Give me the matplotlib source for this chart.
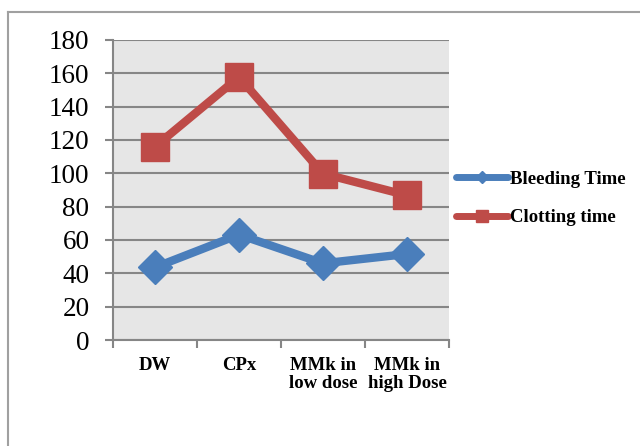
import matplotlib
matplotlib.use("Agg")
import matplotlib.pyplot as plt
from matplotlib.lines import Line2D

categories = ["DW", "CPx", "MMk in\nlow dose", "MMk in\nhigh Dose"]
bleeding = [43.6, 63.2, 46.0, 51.6]
clotting = [116.0, 157.8, 99.8, 86.8]
yticks = [0, 20, 40, 60, 80, 100, 120, 140, 160, 180]

blue = "#4a7ebb"
red = "#be4b48"
grid = "#868686"

fig = plt.figure(figsize=(6.4, 4.46), dpi=100)
fig.patch.set_facecolor("white")
# outer frame
fig.add_artist(Line2D([8/640, 1.0], [1-12/446, 1-12/446], color="#a0a0a0", lw=1.5, transform=fig.transFigure))
fig.add_artist(Line2D([8/640, 8/640], [1-12/446, 0], color="#a0a0a0", lw=1.5, transform=fig.transFigure))

ax = fig.add_axes([113/640, 1-340/446, 336/640, 300/446])
ax.set_facecolor("#e6e6e6")
x = list(range(len(categories)))
ax.plot(x, bleeding, color=blue, lw=6, marker="D", ms=17, mec=blue, mfc=blue, zorder=3, solid_joinstyle="round")
ax.plot(x, clotting, color=red, lw=6, marker="s", ms=20, mec=red, mfc=red, zorder=3, solid_joinstyle="round")

ax.set_xlim(-0.5, 3.5)
ax.set_ylim(0, 180)
ax.set_yticks(yticks)
ax.set_yticklabels([str(v) for v in yticks], fontfamily="Liberation Serif", fontsize=19.5)
ax.yaxis.grid(True, color=grid, lw=1.5)
ax.set_axisbelow(True)
ax.set_xticks([-0.5, 0.5, 1.5, 2.5, 3.5])
ax.set_xticklabels([])
ax.set_xticks(x, minor=True)
ax.set_xticklabels(categories, minor=True, fontfamily="Liberation Serif", fontsize=13.5, fontweight="bold", linespacing=1.1)
ax.tick_params(axis="x", which="minor", length=0, pad=12)
ax.tick_params(axis="x", which="major", length=6, width=1.5, color=grid, direction="out")
ax.tick_params(axis="y", length=6, width=1.5, color=grid, direction="out", pad=11)
for s in ["top", "right"]:
    ax.spines[s].set_visible(False)
ax.spines["left"].set_color(grid)
ax.spines["left"].set_linewidth(1.5)
ax.spines["bottom"].set_color(grid)
ax.spines["bottom"].set_linewidth(1.5)

handles = [
    Line2D([], [], color=blue, lw=5, marker="D", ms=6, solid_capstyle="round"),
    Line2D([], [], color=red, lw=5, marker="s", ms=8, solid_capstyle="round"),
]
leg = fig.legend(handles, ["Bleeding Time", "Clotting time"], loc="upper left",
                 bbox_to_anchor=(448/640, 1-163/446), frameon=False,
                 prop={"family": "Liberation Serif", "weight": "bold", "size": 13.5},
                 handlelength=2.8, handletextpad=0.12, labelspacing=1.15, borderaxespad=0)

fig.savefig("out.png", dpi=100)
